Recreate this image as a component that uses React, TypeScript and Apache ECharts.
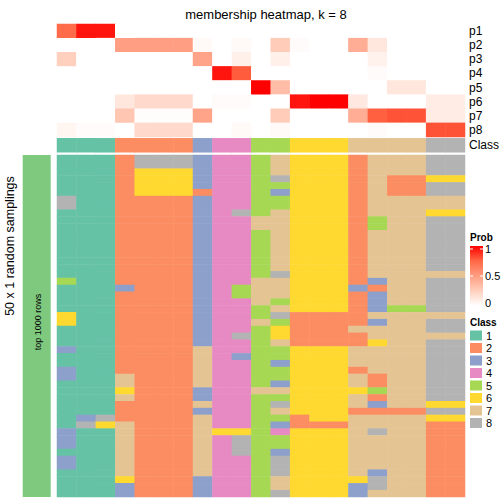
import React, { useEffect, useRef } from "react";
import * as echarts from "echarts";

const columns: string[] = Array.from({ length: 21 }, (_, i) => `c${i + 1}`);
const probRows = ["p1", "p2", "p3", "p4", "p5", "p6", "p7", "p8"];

const p1 = [0.73, 0.95, 0.95, 0, 0, 0, 0, 0, 0, 0, 0, 0, 0, 0, 0, 0, 0, 0, 0, 0, 0];
const p2 = [0, 0, 0, 0.5, 0.5, 0.5, 0.5, 0.03, 0, 0.03, 0, 0.27, 0.02, 0, 0, 0.42, 0.13, 0, 0, 0, 0];
const p3 = [0.25, 0, 0, 0, 0, 0, 0, 0.47, 0, 0.08, 0, 0.08, 0, 0, 0, 0, 0.07, 0, 0, 0, 0];
const p4 = [0, 0, 0, 0, 0, 0, 0, 0, 0.95, 0.78, 0, 0, 0, 0, 0, 0, 0.02, 0, 0, 0, 0];
const p5 = [0, 0, 0, 0, 0, 0, 0, 0, 0, 0, 1, 0.35, 0, 0, 0, 0, 0, 0.13, 0.13, 0, 0];
const p6 = [0, 0, 0, 0.13, 0.2, 0.2, 0.2, 0, 0.02, 0.02, 0, 0, 0.95, 1, 1, 0.12, 0, 0, 0, 0.1, 0.1];
const p7 = [0, 0, 0, 0.3, 0.01, 0.01, 0.01, 0.47, 0, 0, 0, 0.27, 0, 0, 0, 0.42, 0.77, 0.8, 0.8, 0.1, 0.1];
const p8 = [0.05, 0.02, 0.02, 0, 0.2, 0.2, 0.2, 0, 0, 0.03, 0, 0.03, 0, 0, 0, 0, 0.02, 0, 0, 0.8, 0.8];
const probValues = [p1, p2, p3, p4, p5, p6, p7, p8];

const columnClass = [1, 1, 1, 2, 2, 2, 2, 3, 4, 4, 5, 5, 6, 6, 6, 7, 7, 7, 7, 8, 8];

const samplings = [
  "111288834457666277788",
  "111288834457666277788",
  "111266634457666277788",
  "111266634458666272266",
  "111266634455666272288",
  "111266624453666272288",
  "811222234455666277777",
  "811222234455666277777",
  "111222234857666277766",
  "111222234477666257788",
  "111222234477666257788",
  "111222234457666277788",
  "111222234457666277788",
  "111222234457666277788",
  "111222234457666277788",
  "111222234457666277788",
  "111222234457666277788",
  "111222234458666277777",
  "511222234477666237788",
  "111322234577666327788",
  "111222234577666237788",
  "111222234475666237788",
  "111222234457666235588",
  "611222234458222277777",
  "611222234475222237788",
  "111222234456222777788",
  "111222234856222277777",
  "111222234457222267788",
  "311222274455666777788",
  "111222274355666777788",
  "111222274453666777788",
  "311222274455666277788",
  "311722274455666727788",
  "111722274453666727788",
  "111622234477666657788",
  "111722234455666727788",
  "111222274458666737766",
  "111222234457666222288",
  "138222274455266777766",
  "186722274453222777722",
  "311722276654666787722",
  "311722274855666777722",
  "311722274855666777722",
  "111722274853666777722",
  "311722274458666777722",
  "311722274458666777722",
  "111722274458666737722",
  "111622234457666687722",
  "111322234457666387722",
  "111322234458666377722",
];

const classLabels = ["1", "2", "3", "4", "5", "6", "7", "8"];
const classColors = ["#66c2a5", "#fc8d62", "#8da0cb", "#e78ac3", "#a6d854", "#ffd92f", "#e5c494", "#b3b3b3"];
const probColors = ["#ffffff", "#ffd0be", "#ff9e82", "#ff6846", "#ff0000"];
const probTicks = ["0", "0.5", "1"];

const FONT = "'Liberation Sans', Arial, Helvetica, sans-serif";

export default function App() {
  const ref = useRef<HTMLDivElement>(null);
  useEffect(() => {
    document.body.style.margin = "0";
    if (!ref.current) return;
    const chart = echarts.init(ref.current, undefined, { renderer: "svg" });

    const probData: number[][] = [];
    probValues.forEach((row, r) => row.forEach((v, c) => probData.push([c, r, v])));
    const classData = columnClass.map((v, c) => [c, 0, v]);
    const sampleData: number[][] = [];
    samplings.forEach((s, r) => s.split("").forEach((ch, c) => sampleData.push([c, r, Number(ch)])));
    const sampleRows = samplings.map((_, i) => `s${i + 1}`);

    const L = 57, W = 408;
    const hideX = (gi: number) => ({
      type: "category", gridIndex: gi, data: columns, show: false,
    });
    const yAx = (gi: number, data: string[], show: boolean) => ({
      type: "category", gridIndex: gi, data, inverse: true, position: "right",
      show,
      axisLine: { show: false }, axisTick: { show: false }, splitLine: { show: false },
      axisLabel: { fontSize: 12, color: "#000", margin: 4, interval: 0, fontFamily: FONT },
    });

    const option: any = {
      animation: false,
      textStyle: { fontFamily: FONT },
      title: {
        text: "membership heatmap, k = 8",
        left: 261, textAlign: "center", top: 3,
        textStyle: { fontSize: 13, fontWeight: "normal", color: "#000", fontFamily: FONT },
      },
      grid: [
        { left: L, width: W, top: 24, height: 113 },
        { left: L, width: W, top: 138.3, height: 14 },
        { left: L, width: W, top: 155, height: 342 },
      ],
      xAxis: [hideX(0), hideX(1), hideX(2)],
      yAxis: [yAx(0, probRows, true), yAx(1, ["Class"], true), yAx(2, sampleRows, false)],
      visualMap: [
        {
          type: "continuous", min: 0, max: 1, seriesIndex: 0, dimension: 2, show: false,
          inRange: { color: probColors },
        },
        {
          type: "piecewise", seriesIndex: [1, 2], dimension: 2, show: true,
          pieces: classLabels.map((l, i) => ({ value: i + 1, label: l, color: classColors[i] })),
          orient: "vertical", inverse: true, left: 470, top: 330, align: "left",
          itemWidth: 12, itemHeight: 10, itemGap: 1.5, textGap: 4, itemSymbol: "rect",
          selectedMode: false, padding: 0,
          textStyle: { fontSize: 11, color: "#000", fontFamily: FONT },
        },
      ],
      series: [
        { type: "heatmap", xAxisIndex: 0, yAxisIndex: 0, data: probData, emphasis: { disabled: true } },
        { type: "heatmap", xAxisIndex: 1, yAxisIndex: 1, data: classData, emphasis: { disabled: true } },
        { type: "heatmap", xAxisIndex: 2, yAxisIndex: 2, data: sampleData, emphasis: { disabled: true } },
      ],
      graphic: [
        { type: "rect", shape: { x: 22.7, y: 155, width: 28, height: 342 }, style: { fill: "#7fc97f" } },
        {
          type: "text", x: 38, y: 322, rotation: Math.PI / 2,
          style: { text: "top 1000 rows", fontSize: 9, fill: "#000", align: "center", verticalAlign: "middle", fontFamily: FONT },
        },
        {
          type: "text", x: 10, y: 246, rotation: Math.PI / 2,
          style: { text: "50 x 1 random samplings", fontSize: 12.5, fill: "#000", align: "center", verticalAlign: "middle", fontFamily: FONT },
        },
        {
          type: "text", x: 470, y: 237,
          style: { text: "Prob", fontSize: 10, fontWeight: "bold", fill: "#000", verticalAlign: "middle", fontFamily: FONT },
        },
        {
          type: "rect", shape: { x: 470, y: 246, width: 13, height: 60 },
          style: {
            fill: new echarts.graphic.LinearGradient(0, 0, 0, 1, [
              { offset: 0, color: probColors[4] },
              { offset: 0.25, color: probColors[3] },
              { offset: 0.5, color: probColors[2] },
              { offset: 0.75, color: probColors[1] },
              { offset: 1, color: probColors[0] },
            ]),
          },
        },
        ...probTicks.map((t, i) => ({
          type: "text", x: 485, y: 303 - 27 * i,
          style: { text: t, fontSize: 11, fill: "#000", verticalAlign: "middle", fontFamily: FONT },
        })),
        ...[1, 2].map((i) => ({
          type: "line", shape: { x1: 470, y1: 303 - 27 * i, x2: 473, y2: 303 - 27 * i },
          style: { stroke: "#fff", lineWidth: 1 },
        })),
        ...[1, 2].map((i) => ({
          type: "line", shape: { x1: 480, y1: 303 - 27 * i, x2: 483, y2: 303 - 27 * i },
          style: { stroke: "#fff", lineWidth: 1 },
        })),
        {
          type: "text", x: 470, y: 322,
          style: { text: "Class", fontSize: 10, fontWeight: "bold", fill: "#000", verticalAlign: "middle", fontFamily: FONT },
        },
      ],
    };
    chart.setOption(option);
    return () => chart.dispose();
  }, []);
  return (
    <div
      ref={ref}
      style={{ position: "absolute", left: 0, top: 0, width: 504, height: 504, background: "#fff" }}
    />
  );
}
